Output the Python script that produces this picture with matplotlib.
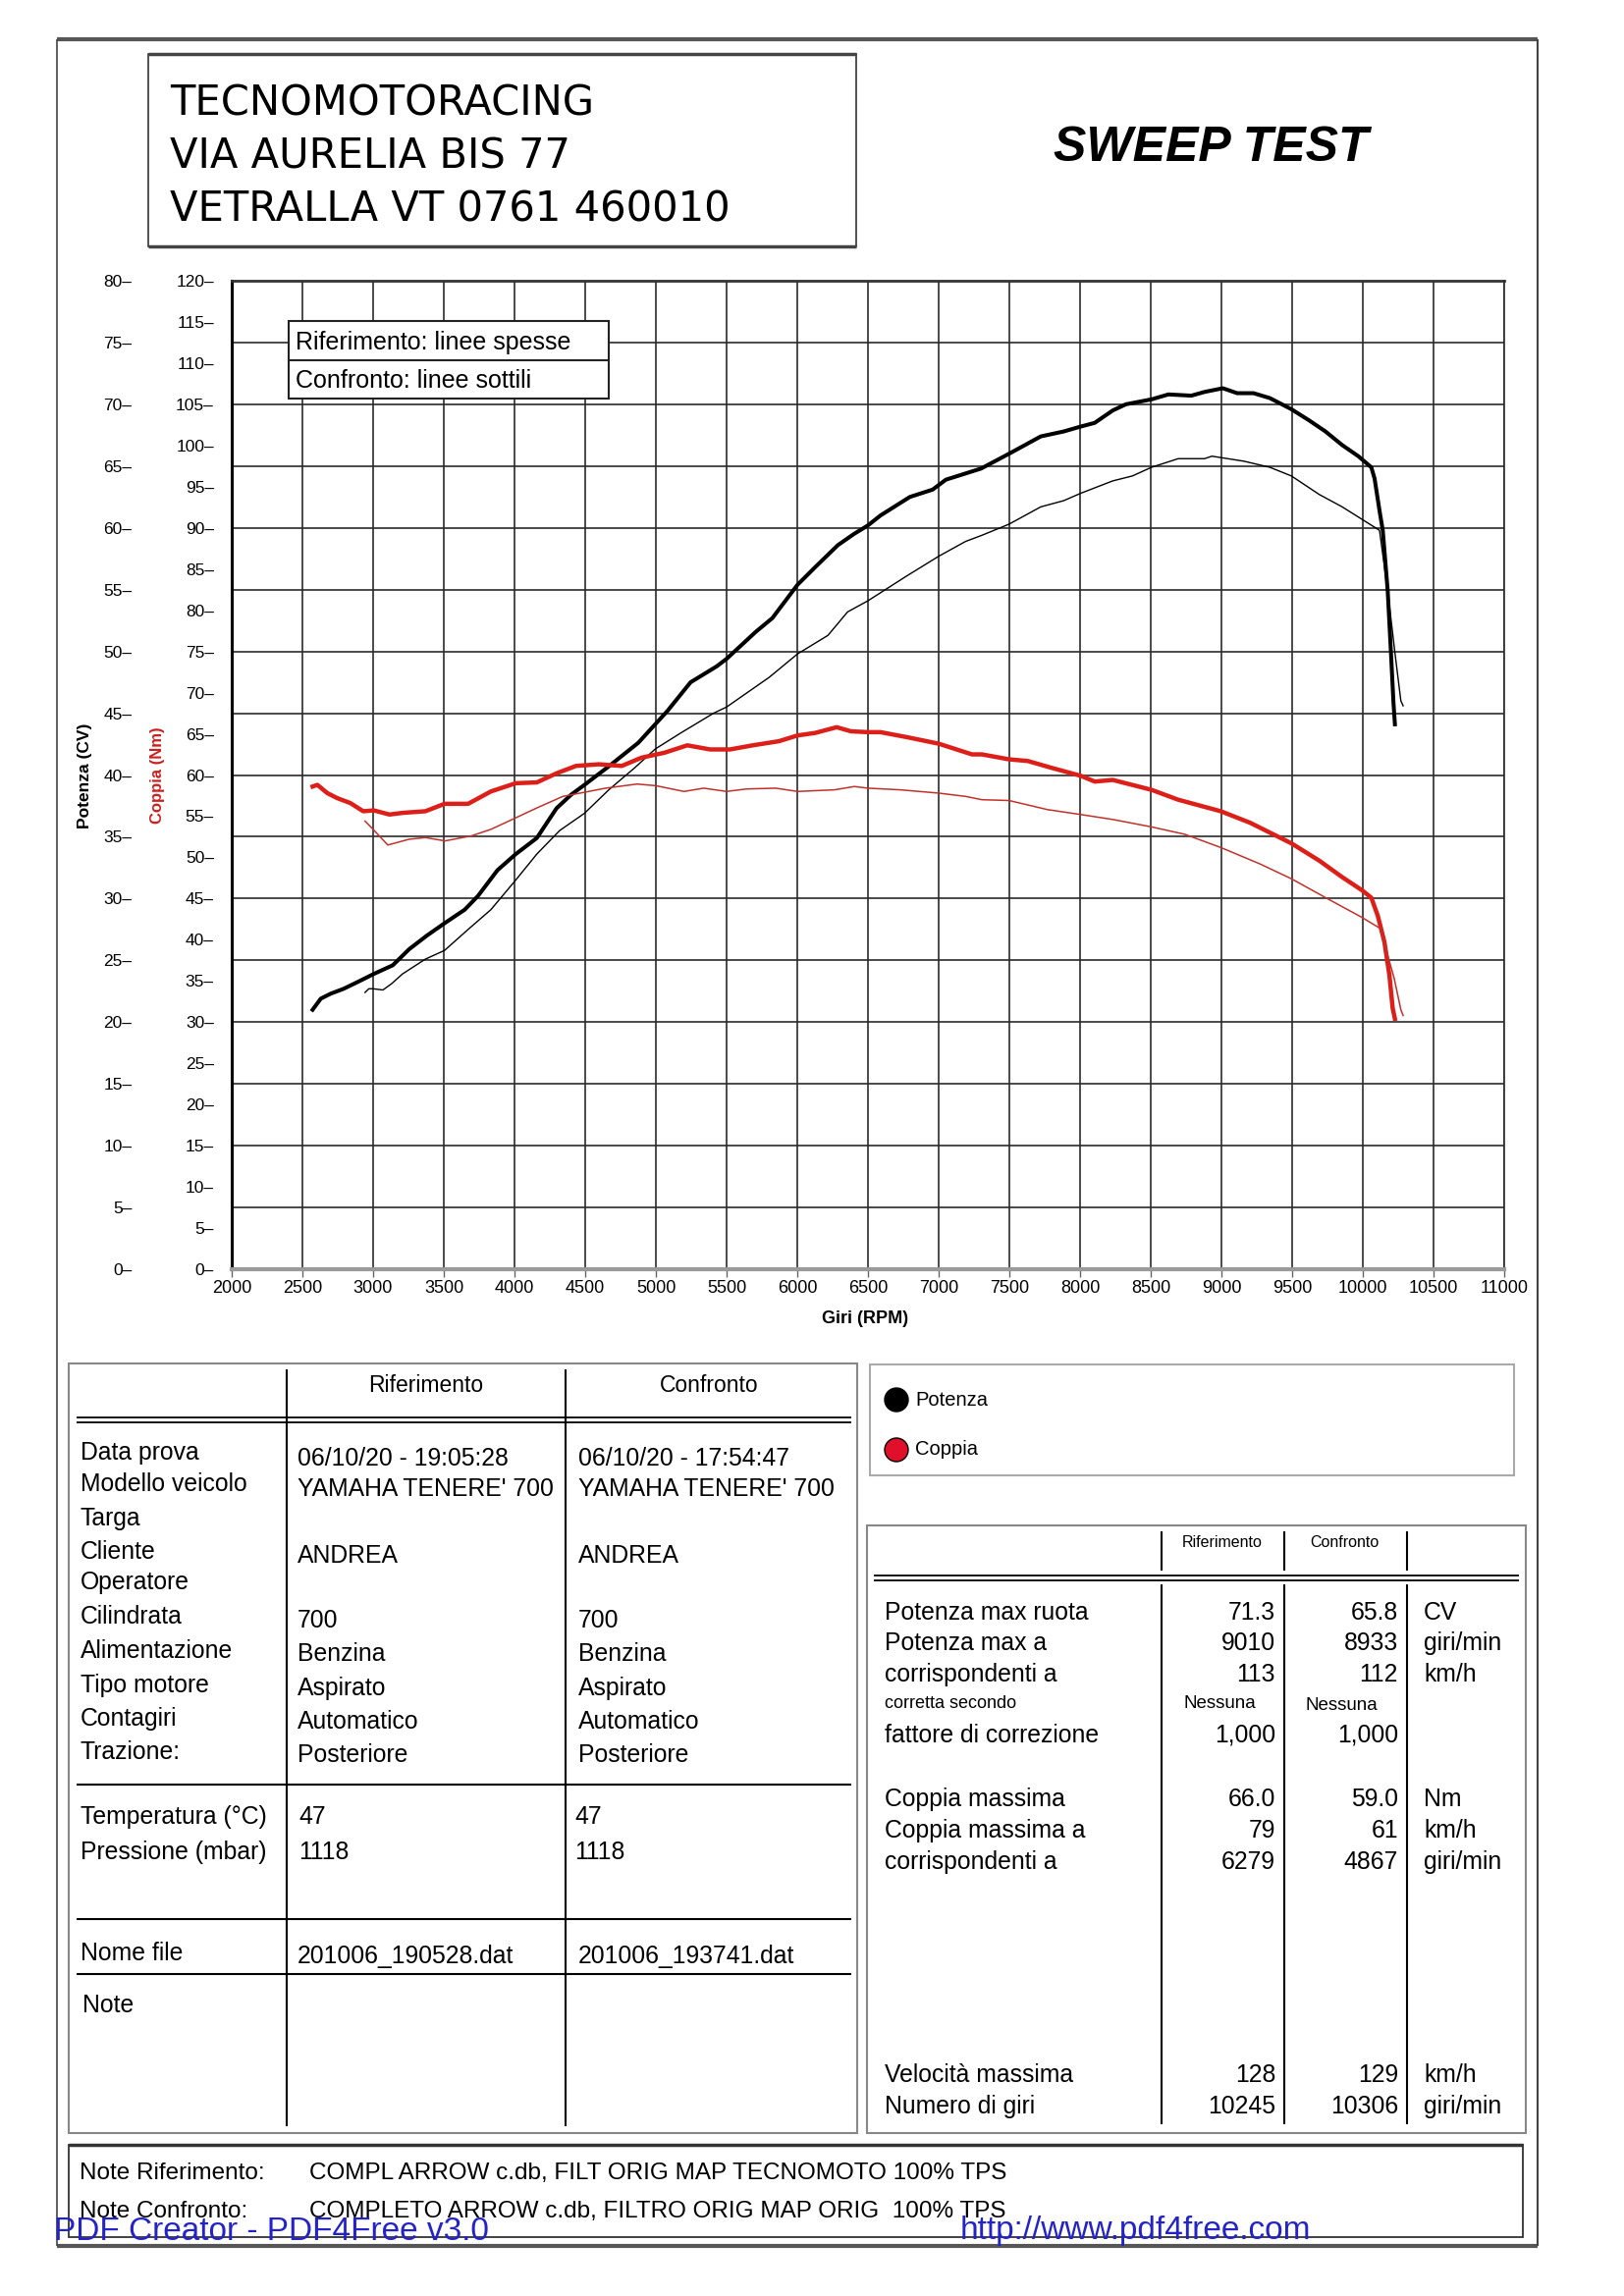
import matplotlib
matplotlib.use("Agg")
import matplotlib.pyplot as plt
from matplotlib.patches import Rectangle, Circle

plt.rcParams['font.family'] = ['Liberation Sans', 'DejaVu Sans']

# ---------------- data ----------------
rif_pot_rpm = [2572, 2630, 2700, 2792, 2900, 3005, 3139, 3255, 3380, 3505, 3648, 3741, 3880, 4009,
               4158, 4297, 4400, 4495, 4667, 4875, 4995, 5083, 5245, 5431, 5500, 5708, 5824, 6002,
               6125, 6287, 6400, 6500, 6588, 6796, 6958, 7051, 7300, 7498, 7722, 7884, 8005, 8104,
               8231, 8324, 8505, 8625, 8787, 8880, 9010, 9111, 9227, 9343, 9495, 9620, 9736, 9854,
               9968, 10060, 10083, 10118, 10141, 10176, 10199, 10217, 10227]
rif_pot_cv = [21.0, 21.9, 22.3, 22.7, 23.3, 23.9, 24.6, 25.9, 27.0, 28.0, 29.1, 30.2, 32.3, 33.6,
              34.9, 37.3, 38.4, 39.2, 40.7, 42.6, 44.1, 45.2, 47.5, 48.8, 49.4, 51.6, 52.7, 55.4,
              56.8, 58.6, 59.5, 60.2, 61.0, 62.5, 63.1, 63.9, 64.8, 66.0, 67.4, 67.8, 68.2, 68.5,
              69.5, 70.0, 70.4, 70.8, 70.7, 71.0, 71.3, 70.9, 70.9, 70.5, 69.6, 68.7, 67.8, 66.7,
              65.8, 64.9, 64.0, 61.4, 59.8, 54.9, 49.9, 45.8, 44.1]

conf_pot_rpm = [2943, 2970, 3000, 3069, 3130, 3208, 3370, 3505, 3672, 3833, 4009, 4158, 4319, 4495,
                4667, 4852, 4995, 5176, 5408, 5500, 5801, 6002, 6217, 6356, 6500, 6773, 7000, 7190,
                7306, 7498, 7722, 7884, 8005, 8231, 8370, 8505, 8694, 8880, 8933, 9157, 9343, 9495,
                9692, 9854, 9993, 10118, 10176, 10227, 10269, 10285]
conf_pot_cv = [22.4, 22.7, 22.7, 22.6, 23.1, 23.9, 25.1, 25.8, 27.5, 29.1, 31.5, 33.6, 35.5, 36.9,
               38.8, 40.6, 42.1, 43.4, 45.0, 45.5, 47.9, 49.8, 51.3, 53.2, 54.1, 56.1, 57.7, 58.9,
               59.4, 60.3, 61.7, 62.2, 62.8, 63.8, 64.2, 64.9, 65.6, 65.6, 65.8, 65.4, 64.9, 64.2,
               62.7, 61.7, 60.7, 59.8, 54.9, 49.9, 46.0, 45.6]

rif_cop_rpm = [2572, 2606, 2676, 2745, 2838, 2930, 3005, 3116, 3208, 3370, 3505, 3672, 3833, 4009,
               4158, 4297, 4435, 4597, 4759, 4898, 5060, 5222, 5384, 5524, 5685, 5870, 6002, 6125,
               6279, 6380, 6500, 6588, 6773, 7000, 7236, 7306, 7498, 7630, 7792, 8005, 8104, 8231,
               8505, 8694, 8995, 9203, 9495, 9692, 9854, 9995, 10060, 10106, 10153, 10188, 10211, 10227]
rif_cop_nm = [58.6, 58.8, 57.8, 57.2, 56.6, 55.6, 55.7, 55.2, 55.4, 55.6, 56.5, 56.5, 58.0, 59.0,
              59.1, 60.2, 61.1, 61.3, 61.1, 62.1, 62.7, 63.6, 63.1, 63.1, 63.6, 64.1, 64.8, 65.1,
              65.8, 65.3, 65.2, 65.2, 64.6, 63.8, 62.5, 62.5, 61.9, 61.7, 60.9, 59.9, 59.2, 59.4,
              58.2, 57.0, 55.6, 54.2, 51.7, 49.6, 47.6, 46.0, 45.1, 42.9, 39.7, 35.7, 31.7, 30.4]

conf_cop_rpm = [2943, 3000, 3104, 3255, 3370, 3509, 3694, 3833, 4009, 4158, 4342, 4495, 4644, 4867,
                5000, 5199, 5338, 5500, 5639, 5847, 6002, 6264, 6403, 6500, 6727, 7000, 7190, 7306,
                7498, 7769, 8005, 8231, 8505, 8741, 8995, 9273, 9495, 9759, 9995, 10130, 10176,
                10222, 10269, 10285]
conf_cop_nm = [54.4, 53.4, 51.5, 52.2, 52.4, 52.0, 52.6, 53.4, 54.8, 56.0, 57.4, 57.9, 58.4, 58.9,
               58.7, 58.0, 58.4, 58.0, 58.3, 58.4, 58.0, 58.2, 58.6, 58.4, 58.2, 57.8, 57.4, 57.0,
               56.9, 55.8, 55.2, 54.6, 53.7, 52.8, 51.2, 49.2, 47.4, 44.9, 42.7, 41.3, 38.1,
               35.3, 31.5, 30.8]

rpm_ticks = list(range(2000, 11001, 500))
cv_ticks = list(range(0, 81, 5))
nm_ticks = list(range(0, 121, 5))

header_lines = ["TECNOMOTORACING", "VIA AURELIA BIS 77", "VETRALLA VT 0761 460010"]
title = "SWEEP TEST"
legend_lines = ["Riferimento: linee spesse", "Confronto: linee sottili"]

col_heads = ["Riferimento", "Confronto"]
info_labels = ["Data prova", "Modello veicolo", "Targa", "Cliente", "Operatore", "Cilindrata",
               "Alimentazione", "Tipo motore", "Contagiri", "Trazione:"]
info_rif = ["06/10/20 - 19:05:28", "YAMAHA TENERE' 700", "", "ANDREA", "", "700", "Benzina",
            "Aspirato", "Automatico", "Posteriore"]
info_conf = ["06/10/20 - 17:54:47", "YAMAHA TENERE' 700", "", "ANDREA", "", "700", "Benzina",
             "Aspirato", "Automatico", "Posteriore"]
env_labels = ["Temperatura (°C)", "Pressione (mbar)"]
env_rif = ["47", "1118"]
env_conf = ["47", "1118"]
file_label = "Nome file"
file_rif = "201006_190528.dat"
file_conf = "201006_193741.dat"

res_labels = ["Potenza max ruota", "Potenza max a", "corrispondenti a", "corretta secondo",
              "fattore di correzione", "Coppia massima", "Coppia massima a", "corrispondenti a",
              "Velocità massima", "Numero di giri"]
res_rif = ["71.3", "9010", "113", "Nessuna", "1,000", "66.0", "79", "6279", "128", "10245"]
res_conf = ["65.8", "8933", "112", "Nessuna", "1,000", "59.0", "61", "4867", "129", "10306"]
res_units = ["CV", "giri/min", "km/h", "", "", "Nm", "km/h", "giri/min", "km/h", "giri/min"]

note_labels = ["Note Riferimento:", "Note Confronto:"]
note_texts = ["COMPL ARROW c.db, FILT ORIG MAP TECNOMOTO 100% TPS",
              "COMPLETO ARROW c.db, FILTRO ORIG MAP ORIG  100% TPS"]
series_names = ["Potenza", "Coppia"]

# ---------------- figure ----------------
W, H, DPI = 1654, 2339, 100
fig = plt.figure(figsize=(W / DPI, H / DPI), dpi=DPI)
fig.patch.set_facecolor("white")

L, R, T, B = 236, 1532, 286, 1293
ax = fig.add_axes([L / W, 1 - B / H, (R - L) / W, (B - T) / H])
ax.set_xlim(2000, 11000)
ax.set_ylim(0, 80)
ax.set_xticks(rpm_ticks)
ax.set_xticklabels([str(v) for v in rpm_ticks], fontsize=13)
ax.set_yticks(cv_ticks)
ax.set_yticklabels([f"{v}–" for v in cv_ticks], fontsize=12.5)
ax.tick_params(axis='y', length=0, pad=73)
ax.tick_params(axis='x', length=6, width=1, color='#666666', pad=2, direction='out')
ax.grid(True, color='#2b2b2b', lw=1.2)
ax.set_axisbelow(True)
ax.spines['left'].set_linewidth(2.2)
ax.spines['left'].set_color('black')
ax.spines['top'].set_linewidth(2.0)
ax.spines['top'].set_color('#333333')
ax.spines['bottom'].set_linewidth(3.0)
ax.spines['bottom'].set_color('#9a9a9a')
ax.spines['right'].set_linewidth(1.2)
ax.spines['right'].set_color('#2b2b2b')

ax2 = ax.twinx()
ax2.set_ylim(0, 120)
ax2.yaxis.tick_left()
ax2.set_yticks(nm_ticks)
ax2.set_yticklabels([f"{v}–" for v in nm_ticks], fontsize=12.5)
ax2.tick_params(axis='y', length=0, pad=13)
for s in ax2.spines.values():
    s.set_visible(False)

ax.plot(rif_pot_rpm, rif_pot_cv, color='black', lw=2.9, solid_joinstyle='round', zorder=5)
ax.plot(conf_pot_rpm, conf_pot_cv, color='black', lw=1.0, solid_joinstyle='round', zorder=5)
ax2.plot(rif_cop_rpm, rif_cop_nm, color='#dd1f1a', lw=3.2, solid_joinstyle='round', zorder=5)
ax2.plot(conf_cop_rpm, conf_cop_nm, color='#c0322c', lw=1.1, solid_joinstyle='round', zorder=5)

# ---------------- page overlay ----------------
pg = fig.add_axes([0, 0, 1, 1], zorder=10)
pg.set_xlim(0, W)
pg.set_ylim(H, 0)
pg.axis('off')
pg.patch.set_alpha(0)


def hline(x0, x1, y, lw=1.2, c='black'):
    pg.plot([x0, x1], [y, y], color=c, lw=lw, solid_capstyle='butt')


def vline(x, y0, y1, lw=1.2, c='black'):
    pg.plot([x, x], [y0, y1], color=c, lw=lw, solid_capstyle='butt')


def box(x0, y0, x1, y1, lw=1.2, c='black', fc='none'):
    pg.add_patch(Rectangle((x0, y0), x1 - x0, y1 - y0, fill=(fc != 'none'), facecolor=fc,
                           edgecolor=c, lw=lw))


# page border
hline(58, 1566, 40, lw=3, c='#555555')
hline(58, 1566, 2288, lw=3, c='#555555')
vline(58, 40, 2288, lw=1.2, c='#444444')
vline(1566, 40, 2288, lw=1.5, c='#444444')

# header box
box(151, 55, 872, 251, lw=1.2, c='#333333')
hline(151, 872, 55, lw=2.5, c='#444444')
hline(151, 872, 251, lw=2.5, c='#444444')
for i, t in enumerate(header_lines):
    pg.text(173, 105 + 54 * i, t, fontsize=30, family='DejaVu Sans', va='center', ha='left')
pg.text(1233, 151, title, fontsize=36, fontweight='bold', fontstyle='italic', ha='center',
        va='center')

# axis titles
pg.text(87, 790, "Potenza (CV)", rotation=90, fontsize=12.5, fontweight='bold', ha='center',
        va='center')
pg.text(161, 790, "Coppia (Nm)", rotation=90, fontsize=12, fontweight='bold', color='#cc1f1f',
        ha='center', va='center')
pg.text(881, 1344, "Giri (RPM)", fontsize=13, fontweight='bold', ha='center', va='center')

# chart legend
box(294, 327, 620, 406, lw=1.5, c='#222222', fc='white')
hline(294, 620, 367, lw=1.5, c='#222222')
pg.text(301, 349, legend_lines[0], fontsize=18, va='center', ha='left')
pg.text(301, 388, legend_lines[1], fontsize=18, va='center', ha='left')

# left table
FS = 17.8
box(70, 1389, 873, 2173, lw=1.5, c='#888888')
vline(292, 1395, 2166, lw=1.5)
vline(576, 1395, 2166, lw=1.5)
hline(78, 867, 1444, lw=1.3)
hline(78, 867, 1449, lw=1.3)
pg.text(434, 1412, col_heads[0], fontsize=16.5, ha='center', va='center')
pg.text(722, 1412, col_heads[1], fontsize=16.5, ha='center', va='center')
lab_y = [1480, 1512, 1547, 1581, 1612, 1647, 1682, 1717, 1751, 1785]
val_y = [1486, 1517, 1551, 1585, 1616, 1651, 1685, 1720, 1754, 1788]
for i, lab in enumerate(info_labels):
    pg.text(82, lab_y[i], lab, fontsize=FS, va='center', ha='left')
    pg.text(303, val_y[i], info_rif[i], fontsize=FS, va='center', ha='left')
    pg.text(589, val_y[i], info_conf[i], fontsize=FS, va='center', ha='left')
hline(78, 867, 1818, lw=1.5)
for i, lab in enumerate(env_labels):
    y = 1851 + 36 * i
    pg.text(82, y, lab, fontsize=FS, va='center', ha='left')
    pg.text(304, y, env_rif[i], fontsize=FS, va='center', ha='left')
    pg.text(585, y, env_conf[i], fontsize=FS, va='center', ha='left')
hline(78, 867, 1955, lw=1.5)
pg.text(82, 1990, file_label, fontsize=FS, va='center', ha='left')
pg.text(303, 1993, file_rif, fontsize=FS, va='center', ha='left')
pg.text(589, 1993, file_conf, fontsize=FS, va='center', ha='left')
hline(78, 867, 2011, lw=1.5)
pg.text(84, 2043, "Note", fontsize=FS, va='center', ha='left')

# series legend box
box(886, 1390, 1542, 1503, lw=1.5, c='#aaaaaa')
pg.add_patch(Circle((913, 1426), 12, facecolor='black', edgecolor='black'))
pg.add_patch(Circle((913, 1477), 12, facecolor='#e0102a', edgecolor='black', lw=1))
pg.text(932, 1426, series_names[0], fontsize=14.5, va='center', ha='left')
pg.text(932, 1477, series_names[1], fontsize=14.5, va='center', ha='left')

# right table
box(883, 1554, 1554, 2173, lw=1.5, c='#888888')
for x in (1183, 1308, 1433):
    vline(x, 1560, 1600, lw=1.5)
    vline(x, 1614, 2164, lw=1.5)
hline(890, 1547, 1605, lw=1.3)
hline(890, 1547, 1610, lw=1.3)
pg.text(1245, 1572, col_heads[0], fontsize=11.5, ha='center', va='center')
pg.text(1369, 1572, col_heads[1], fontsize=11.5, ha='center', va='center')
res_y = [1643, 1674, 1706, 1736, 1768, 1833, 1865, 1897, 2114, 2146]
for i, lab in enumerate(res_labels):
    small = (lab == "corretta secondo")
    fs = 13 if small else FS
    pg.text(901, res_y[i], lab, fontsize=fs, va='center', ha='left')
    if res_rif[i] == "Nessuna":
        pg.text(1242, res_y[i], res_rif[i], fontsize=13.5, va='center', ha='center')
        pg.text(1366, res_y[i] + 2, res_conf[i], fontsize=13.5, va='center', ha='center')
    else:
        pg.text(1299, res_y[i], res_rif[i], fontsize=FS, va='center', ha='right')
        pg.text(1424, res_y[i], res_conf[i], fontsize=FS, va='center', ha='right')
    pg.text(1450, res_y[i], res_units[i], fontsize=FS, va='center', ha='left')

# notes box
box(70, 2185, 1551, 2279, lw=1.3, c='#333333')
hline(70, 1551, 2185, lw=2.5, c='#333333')
for i in range(2):
    y = 2214 + 39 * i
    pg.text(81, y, note_labels[i], fontsize=17.5, va='center', ha='left')
    pg.text(315, y, note_texts[i], fontsize=17.5, va='center', ha='left')

# watermark
pg.text(55, 2273, "PDF Creator - PDF4Free v3.0", fontsize=24, color='#2323c8', va='center',
        ha='left')
pg.text(978, 2273, "http://www.pdf4free.com", fontsize=24, color='#2323c8', va='center',
        ha='left')

fig.savefig("out.png", dpi=DPI, facecolor='white')
